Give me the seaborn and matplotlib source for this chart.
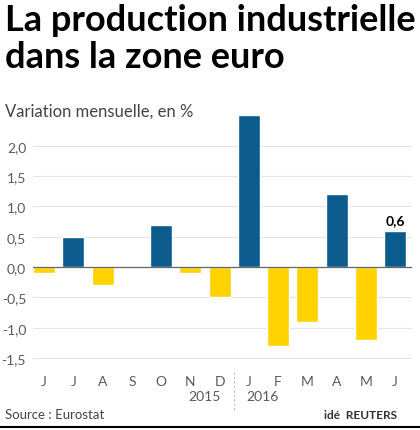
import matplotlib
matplotlib.use("Agg")
import matplotlib.pyplot as plt
import pandas as pd
import seaborn as sns

months = ["J", "J", "A", "S", "O", "N", "D", "J", "F", "M", "A", "M", "J"]
values = [-0.1, 0.5, -0.3, 0.0, 0.7, -0.1, -0.5, 2.5, -1.3, -0.9, 1.2, -1.2, 0.6]
years = ["2015", "2016"]
yticks = [-1.5, -1.0, -0.5, 0.0, 0.5, 1.0, 1.5, 2.0]

BLUE = "#0b5b8c"
YELLOW = "#ffd200"

df = pd.DataFrame({"pos": range(len(values)), "value": values})
df["sign"] = ["pos" if v >= 0 else "neg" for v in values]

sns.set_theme(style="white")
plt.rcParams["font.family"] = ["Lato", "DejaVu Sans"]

fig = plt.figure(figsize=(4.2, 4.31), dpi=100)
ax = fig.add_axes([0.0786, 0.153, 0.9024, 0.591])

sns.barplot(data=df, x="pos", y="value", hue="sign",
            palette={"pos": BLUE, "neg": YELLOW}, dodge=False,
            width=0.75, legend=False, ax=ax, saturation=1)

ax.set_xlim(-0.38, 12.58)
ax.set_ylim(-1.6, 2.6)
ax.set_yticks(yticks)
ax.set_yticklabels([f"{t:.1f}".replace(".", ",") for t in yticks],
                   color="#5a5a5a", fontsize=10)
ax.tick_params(axis="y", length=0, pad=5)
ax.yaxis.grid(True, color="#e3e3e3", linewidth=0.8)
ax.set_axisbelow(True)
ax.axhline(0, color="#666666", linewidth=0.9, zorder=1)
for s in ax.spines.values():
    s.set_visible(False)
ax.set_xlabel("")
ax.set_ylabel("")
ax.set_xticks(range(len(months)))
ax.set_xticklabels(months, color="#5a5a5a", fontsize=10)
ax.tick_params(axis="x", length=0, pad=8)

# label on last bar
ax.text(12, values[-1] + 0.07, "0,6", ha="center", va="bottom",
        fontsize=10, fontweight="bold", color="black")

# year labels and separator
trans = ax.get_xaxis_transform()
ax.text(5.5, -0.125, years[0], transform=trans, ha="center", va="center",
        color="#5a5a5a", fontsize=10)
ax.text(7.45, -0.125, years[1], transform=trans, ha="center", va="center",
        color="#5a5a5a", fontsize=10)
ax.plot([6.5, 6.5], [-0.03, -0.18], transform=trans, color="#bbbbbb",
        linestyle=(0, (2, 2)), linewidth=0.8, clip_on=False)

fig.text(0.012, 0.99, "La production industrielle\ndans la zone euro",
         ha="left", va="top", fontsize=26, fontweight="bold",
         color="black", linespacing=1.12)
fig.text(0.012, 0.742, "Variation mensuelle, en %", ha="left", va="center",
         fontsize=12, color="#444444")
fig.text(0.012, 0.037, "Source : Eurostat", ha="left", va="center",
         fontsize=9.5, color="#444444")
fig.text(0.945, 0.037, "idé  REUTERS", ha="right", va="center",
         fontsize=8.5, fontweight="bold", color="#333333")
fig.add_artist(plt.Line2D([0, 1], [0.006, 0.006], color="black", linewidth=1.5))

fig.savefig("out.png", dpi=100)
